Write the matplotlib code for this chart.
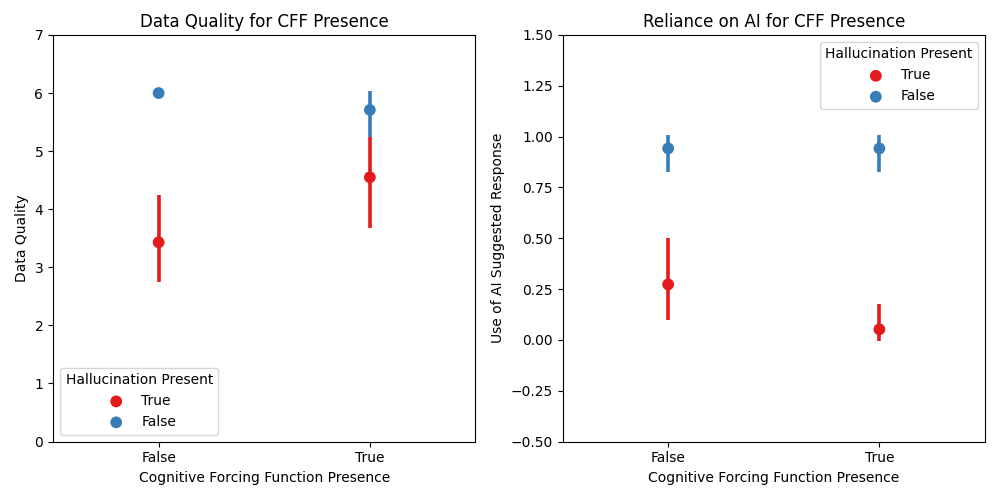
import matplotlib
matplotlib.use("Agg")
import matplotlib.pyplot as plt

categories = ["False", "True"]
hue_labels = ["True", "False"]
colors = ["#e41a1c", "#377eb8"]

# Data Quality
dq_mean = {"True": [3.43, 4.55], "False": [6.00, 5.71]}
dq_lo = {"True": [2.75, 3.68], "False": [6.00, 5.24]}
dq_hi = {"True": [4.24, 5.24], "False": [6.00, 6.03]}

# Reliance on AI
ai_mean = {"True": [0.273, 0.052], "False": [0.942, 0.942]}
ai_lo = {"True": [0.100, -0.007], "False": [0.824, 0.824]}
ai_hi = {"True": [0.503, 0.175], "False": [1.007, 1.007]}

fig, axes = plt.subplots(1, 2, figsize=(10, 5), dpi=100)

def draw(ax, mean, lo, hi):
    x = list(range(len(categories)))
    for lab, c in zip(hue_labels, colors):
        ax.vlines(x, lo[lab], hi[lab], color=c, linewidth=2.6, zorder=2)
        ax.scatter(x, mean[lab], s=72, color=c, label=lab, zorder=3, edgecolors='none')
    ax.set_xticks(x)
    ax.set_xticklabels(categories)
    ax.set_xlim(-0.5, len(categories) - 0.5)
    ax.set_xlabel("Cognitive Forcing Function Presence")

ax = axes[0]
draw(ax, dq_mean, dq_lo, dq_hi)
ax.set_ylim(0, 7)
ax.set_ylabel("Data Quality")
ax.set_title("Data Quality for CFF Presence")
ax.legend(title="Hallucination Present", loc="lower left")

ax = axes[1]
draw(ax, ai_mean, ai_lo, ai_hi)
ax.set_ylim(-0.5, 1.5)
ax.set_ylabel("Use of AI Suggested Response")
ax.set_title("Reliance on AI for CFF Presence")
ax.legend(title="Hallucination Present", loc="upper right")

fig.subplots_adjust(left=0.053, right=0.985, top=0.93, bottom=0.117, wspace=0.206)
fig.savefig("out.png", dpi=100)
